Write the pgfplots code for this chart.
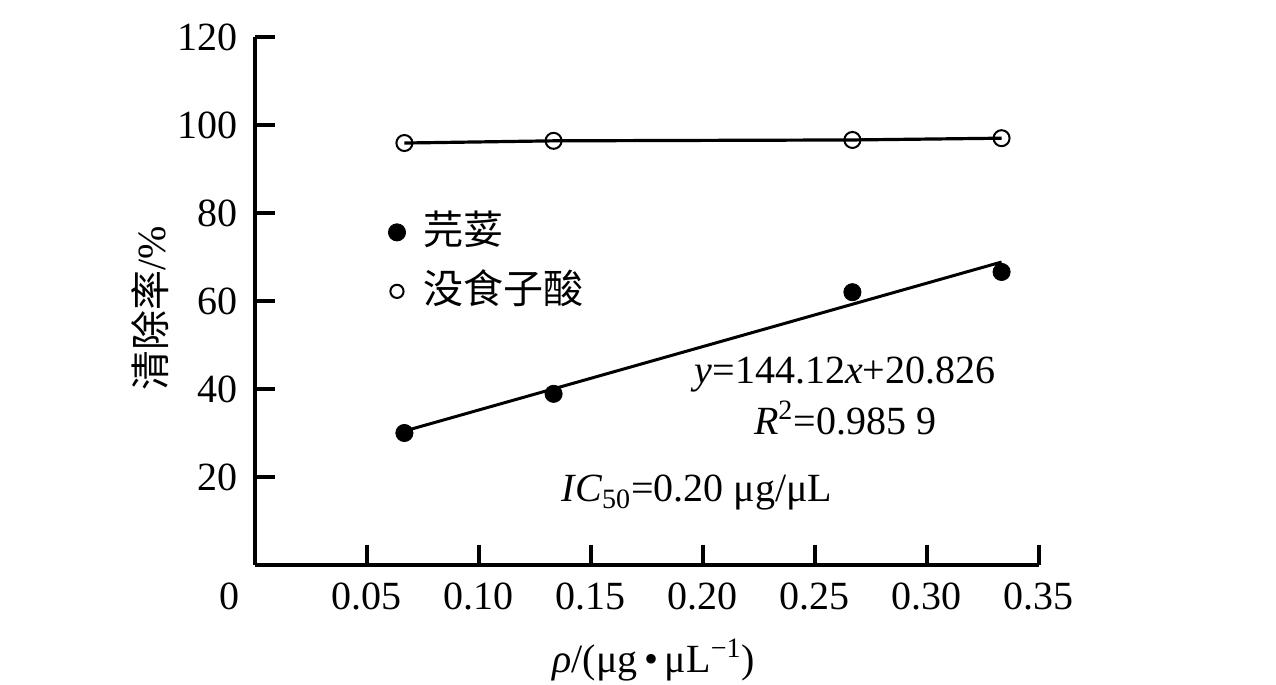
\documentclass[border=0pt]{standalone}
\usepackage{fontspec}
\setmainfont{Liberation Serif}
\newfontfamily\cjk{Noto Sans CJK SC}
\usepackage{pgfplots}
\pgfplotsset{compat=1.18}
\begin{document}
\fontsize{20}{24}\selectfont
\begin{tikzpicture}
\begin{axis}[
  at={(0,0)}, anchor=south west,
  scale only axis, width=392pt, height=264pt,
  xmin=0, xmax=0.35, ymin=0, ymax=120,
  axis lines*=left,
  axis line style={line width=2pt, black},
  xtick={0.05,0.1,0.15,0.2,0.25,0.3,0.35},
  xticklabels={0.05,0.10,0.15,0.20,0.25,0.30,0.35},
  ytick={20,40,60,80,100,120},
  major tick style={line width=2pt, black},
  major tick length=10pt,
  tick align=inside,
  /pgf/number format/assume math mode=true,
  ticklabel style={font=\fontsize{20}{24}\selectfont},
  xticklabel style={yshift=-2pt},
  yticklabel style={xshift=-2pt},
  clip=false,
  legend cell align=left,
  legend image code/.code={\path (-5pt,0) (11pt,0); \draw[#1] plot coordinates {(0pt,0pt)};},
  legend style={draw=none, fill=none, at={(axis cs:0.0583,81.6)}, anchor=north west,
    font=\cjk\fontsize{20}{24}\selectfont, row sep=3.5pt, inner sep=0pt,
    nodes={inner sep=2pt, text height=17pt, text depth=5pt}},
]
\addplot[only marks, mark=*, mark size=4.3pt, black, forget plot]
  coordinates {(0.0667,30.0)(0.1333,38.9)(0.2667,62.0)(0.3333,66.6)};
\addplot[line width=1.5pt, black, forget plot]
  coordinates {(0.0667,30.44)(0.3333,68.86)};
\addplot[black, line width=1.6pt, mark=o, mark size=4pt, mark options={line width=1pt}, forget plot]
  coordinates {(0.0667,95.9)(0.1333,96.4)(0.2667,96.6)(0.3333,97.0)};
\addlegendimage{only marks, mark=*, mark size=4.3pt, black}
\addlegendentry{芫荽}
\addlegendimage{only marks, mark=o, mark size=3.3pt, black, line width=1pt}
\addlegendentry{没食子酸}
\node[font=\fontsize{20}{24}\selectfont] at (axis cs:0.2634,43.2) {\textit{y}=144.12\textit{x}+20.826};
\node[font=\fontsize{20}{24}\selectfont] at (axis cs:0.2634,33.4) {\textit{R}\textsuperscript{2}=0.985 9};
\node[font=\fontsize{20}{24}\selectfont] at (axis cs:0.1973,16.4) {\textit{IC}\textsubscript{50}=0.20 μg/μL};
\node[font=\fontsize{20}{24}\selectfont, anchor=north] at (axis cs:0,0) [xshift=-12.5pt, yshift=-2pt] {0};
\node[font=\fontsize{20}{24}\selectfont] at (axis cs:0.178,0) [yshift=-47.5pt] {\textit{ρ}/(μg\,•\,μL\textsuperscript{−1})};
\node[xshift=-52.5pt, font=\fontsize{20}{24}\selectfont, rotate=90] at (axis cs:0,58.4) {{\cjk 清除率}/\%};
\end{axis}
\pgfresetboundingbox
\path[use as bounding box] (-127.5pt,-60pt) rectangle (510.5pt,282.5pt);
\end{tikzpicture}
\end{document}
